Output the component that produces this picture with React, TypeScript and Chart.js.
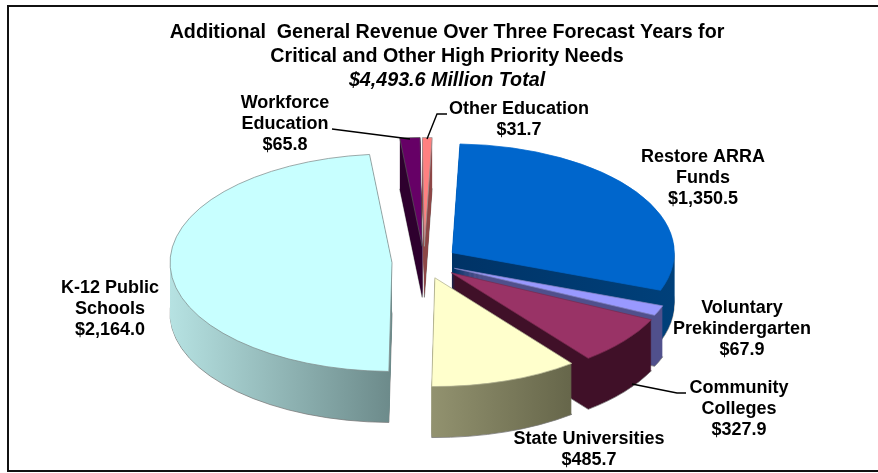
import React, { useEffect, useRef } from "react";
import { Chart, registerables } from "chart.js";

Chart.register(...registerables);

const titleLines = ["Additional  General Revenue Over Three Forecast Years for", "Critical and Other High Priority Needs"];
const subtitleLine = "$4,493.6 Million Total";

const categories = [
  "Restore ARRA Funds",
  "Voluntary Prekindergarten",
  "Community Colleges",
  "State Universities",
  "K-12 Public Schools",
  "Workforce Education",
  "Other Education",
];
const values = [1350.5, 67.9, 327.9, 485.7, 2164.0, 65.8, 31.7];
const labelNameLines = [
  ["Restore ARRA", "Funds"],
  ["Voluntary", "Prekindergarten"],
  ["Community", "Colleges"],
  ["State Universities"],
  ["K-12 Public", "Schools"],
  ["Workforce", "Education"],
  ["Other Education"],
];
const topColors = ["#0066CC", "#9999FF", "#993366", "#FFFFCC", "#C8FFFF", "#660066", "#FF8080"];
const wallStart = ["#003366", "#50508C", "#401028", "#92926F", "#B6E2E2", "#2E002E", "#8C4646"];
const wallEnd = ["#00407A", "#50508C", "#401028", "#66664A", "#6C8A8A", "#2E002E", "#8C4646"];
const edgeColors = ["#0066CC", "#8080C0", "#7A2A50", "#B0B090", "#808C8C", "#555555", "#999999"];
const explode = [34, 33, 35, 34, 32, 32, 32];
const drawOrder = [5, 6, 4, 0, 1, 2, 3];

const labelAnchors = [
  [703, 157],
  [742, 308],
  [739, 388],
  [589, 439],
  [110, 288],
  [285, 103],
  [519, 109],
];
const leaders = [
  [[332, 129], [410, 139]],
  [[447, 114], [437, 114], [427, 139]],
  [[632, 384], [677, 393], [686, 393]],
];

const RADIUS = 222;
const SQUASH = 0.49;
const DEPTH = 51;
const PIE_CX = 424;
const PIE_CY = 262;
const LABEL_LINE = 21;
const FONT = '"Liberation Sans", Arial, sans-serif';

const money = (v: number) =>
  "$" + v.toLocaleString("en-US", { minimumFractionDigits: 1, maximumFractionDigits: 1 });

const pie3d = {
  id: "pie3d",
  beforeDraw(chart: any) {
    const { ctx, width } = chart;
    ctx.save();
    ctx.fillStyle = "#FFFFFF";
    ctx.fillRect(0, 0, chart.width, chart.height);
    ctx.strokeStyle = "#111111";
    ctx.lineWidth = 2;
    ctx.beginPath();
    ctx.moveTo(width, 6);
    ctx.lineTo(8, 6);
    ctx.lineTo(8, 471);
    ctx.lineTo(width, 471);
    ctx.stroke();
    ctx.restore();
  },
  beforeDatasetsDraw(chart: any) {
    const { ctx } = chart;
    const arcs = chart.getDatasetMeta(0).data;
    const cx = arcs[0].x;
    const cy = arcs[0].y;
    ctx.save();
    ctx.translate(PIE_CX, PIE_CY);
    ctx.scale(1, SQUASH);
    ctx.translate(-cx, -cy);
    for (const i of drawOrder) {
      const arc = arcs[i];
      const original = arc.options;
      const mid = (arc.startAngle + arc.endAngle) / 2;
      const ox = Math.cos(mid) * explode[i];
      const oy = Math.sin(mid) * explode[i];
      const x0 = Math.min(cx, cx + Math.cos(arc.startAngle) * RADIUS, cx + Math.cos(arc.endAngle) * RADIUS, i === 4 ? cx - RADIUS : cx);
      const x1 = Math.max(cx, cx + Math.cos(arc.startAngle) * RADIUS, cx + Math.cos(arc.endAngle) * RADIUS, i === 0 ? cx + RADIUS : cx);
      ctx.save();
      ctx.translate(ox, oy);
      const wall = ctx.createLinearGradient(x0, 0, x1, 0);
      wall.addColorStop(0, wallStart[i]);
      wall.addColorStop(1, wallEnd[i]);
      for (let d = DEPTH; d >= 1; d--) {
        ctx.save();
        ctx.translate(0, d / SQUASH);
        arc.options = {
          ...original,
          backgroundColor: wall,
          borderWidth: d === DEPTH ? 1 : 0,
          borderColor: "#777777",
        };
        arc.draw(ctx);
        ctx.restore();
      }
      arc.options = original;
      arc.draw(ctx);
      ctx.restore();
    }
    ctx.restore();
    return false;
  },
  afterDraw(chart: any) {
    const { ctx } = chart;
    ctx.save();
    ctx.strokeStyle = "#000000";
    ctx.lineWidth = 1.4;
    for (const path of leaders) {
      ctx.beginPath();
      path.forEach((p, k) => (k === 0 ? ctx.moveTo(p[0], p[1]) : ctx.lineTo(p[0], p[1])));
      ctx.stroke();
    }
    ctx.fillStyle = "#000000";
    ctx.font = `bold 18px ${FONT}`;
    ctx.textAlign = "center";
    ctx.textBaseline = "middle";
    labelNameLines.forEach((lines, i) => {
      const all = [...lines, money(values[i])];
      all.forEach((t, k) => ctx.fillText(t, labelAnchors[i][0], labelAnchors[i][1] + k * LABEL_LINE));
    });
    ctx.restore();
  },
};

export default function App() {
  const ref = useRef<HTMLCanvasElement>(null);
  useEffect(() => {
    const chart = new Chart(ref.current as HTMLCanvasElement, {
      type: "pie",
      data: {
        labels: categories,
        datasets: [
          {
            data: values,
            backgroundColor: topColors,
            borderColor: edgeColors,
            borderWidth: 1,
            radius: RADIUS,
            clip: false,
          } as any,
        ],
      },
      options: {
        responsive: false,
        animation: false,
        rotation: 2,
        layout: { padding: { top: 21, right: 0, left: 16, bottom: 40 } },
        plugins: {
          legend: { display: false },
          tooltip: { enabled: false },
          title: {
            display: true,
            text: titleLines,
            color: "#000000",
            font: { family: FONT, size: 19.7, weight: "bold", lineHeight: 1.21 },
            padding: { top: 0, bottom: 0 },
          },
          subtitle: {
            display: true,
            text: subtitleLine,
            color: "#000000",
            font: { family: FONT, size: 19.7, weight: "bold", style: "italic", lineHeight: 1.21 },
            padding: { top: 0, bottom: 0 },
          },
        },
      },
      plugins: [pie3d],
    } as any);
    return () => chart.destroy();
  }, []);
  return (
    <div style={{ position: "absolute", left: 0, top: 0, width: 878, height: 473 }}>
      <canvas ref={ref} width={878} height={473} style={{ display: "block" }} />
    </div>
  );
}
